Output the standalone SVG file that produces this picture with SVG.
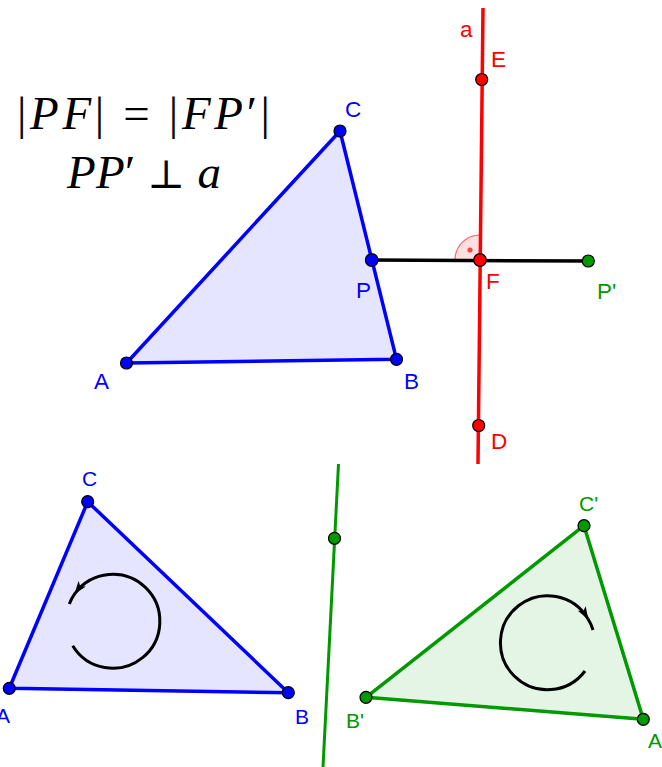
<svg xmlns="http://www.w3.org/2000/svg" width="662" height="767" viewBox="0 0 662 767">
  <style>
    .lbl { font-family: "Liberation Sans", Arial, sans-serif; font-size: 22.5px; }
    .lbl-s { font-family: "Liberation Sans", Arial, sans-serif; font-size: 21px; }
    .blue { fill: #0000ff; }
    .red { fill: #ff0000; }
    .green { fill: #009900; }
    .pt { stroke: #000; stroke-width: 1.2; }
    .math { font-family: "Liberation Serif", "DejaVu Serif", serif; font-size: 47px; fill: #000; }
    .it { font-style: italic; }
    .rot { fill: none; stroke: #000; stroke-width: 3; }
  </style>
  <defs>
    <marker id="ah" markerUnits="userSpaceOnUse" viewBox="-13 -6 15 12" refX="0" refY="0" markerWidth="15" markerHeight="12" orient="auto">
      <path d="M -12 -4.5 L 1 0 L -12 4.5 L -9 0 Z" fill="#000"/>
    </marker>
  </defs>
  <rect width="662" height="767" fill="#fff"/>

  <!-- formula -->
  <g id="formula">
    <text class="math" x="17" y="129" textLength="253" lengthAdjust="spacing">|<tspan class="it">PF</tspan>| = |<tspan class="it">FP</tspan>′|</text>
    <text class="math" x="67" y="188" textLength="154" lengthAdjust="spacing"><tspan class="it">PP</tspan>′ <tspan font-family="DejaVu Serif, serif" font-size="40">⊥</tspan> <tspan class="it">a</tspan></text>
  </g>

  <!-- top figure -->
  <g id="triangle-ABC-top">
    <polygon points="126.5,363 396.5,359.3 340,131" fill="#0000ff" fill-opacity="0.1" stroke="#0000ff" stroke-width="3.5" stroke-linejoin="round"/>
  </g>
  <g id="right-angle">
    <path d="M 455 260 A 25 25 0 0 1 480.4 235 L 480 260 Z" fill="#ff0000" fill-opacity="0.12" stroke="#ff6666" stroke-width="1.2"/>
    <circle cx="470" cy="250" r="2.6" fill="#ff4444"/>
  </g>
  <g id="connectors">
    <line id="line-a" x1="483" y1="8" x2="478" y2="464" stroke="#ff0000" stroke-width="3.5"/>
    <line id="seg-PP" x1="371.7" y1="260" x2="588.3" y2="261" stroke="#000" stroke-width="3.5"/>
    <line id="line-bottom" x1="338.5" y1="464" x2="323" y2="767" stroke="#009900" stroke-width="3"/>
  </g>

  <g id="point-E"><circle class="pt" cx="481.7" cy="79.5" r="6" fill="#ff0000"/><text class="lbl red" x="491" y="67">E</text></g>
  <g id="label-a"><text class="lbl red" x="460" y="37">a</text></g>
  <g id="point-C"><circle class="pt" cx="340" cy="131" r="6" fill="#0000ff"/><text class="lbl blue" x="345" y="117">C</text></g>
  <g id="point-P"><circle class="pt" cx="371.7" cy="260" r="6.3" fill="#0000ff"/><text class="lbl blue" x="356" y="298">P</text></g>
  <g id="point-F"><circle class="pt" cx="480" cy="260" r="6.3" fill="#ff0000"/><text class="lbl red" x="486" y="289">F</text></g>
  <g id="point-P1"><circle class="pt" cx="588.3" cy="261" r="6" fill="#009900"/><text class="lbl green" x="597" y="299">P'</text></g>
  <g id="point-A"><circle class="pt" cx="126.5" cy="363" r="6" fill="#0000ff"/><text class="lbl blue" x="94" y="389">A</text></g>
  <g id="point-B"><circle class="pt" cx="396.5" cy="359.3" r="6" fill="#0000ff"/><text class="lbl blue" x="404" y="389">B</text></g>
  <g id="point-D"><circle class="pt" cx="478.7" cy="425.5" r="6" fill="#ff0000"/><text class="lbl red" x="491" y="449">D</text></g>

  <!-- bottom left -->
  <g id="triangle-ABC-bottom">
    <polygon points="9.3,688.3 288.3,692.7 87.7,501.7" fill="#0000ff" fill-opacity="0.1" stroke="#0000ff" stroke-width="3.5" stroke-linejoin="round"/>
    <path class="rot" d="M 72.7 645.7 A 47 47 0 1 0 75 593.4" marker-end="url(#ah)"/>
    <path class="rot" d="M 75 593.4 A 47 47 0 0 0 69.3 604"/>
  </g>
  <g id="point-C2"><circle class="pt" cx="87.7" cy="501.7" r="6" fill="#0000ff"/><text class="lbl-s blue" x="82" y="486">C</text></g>
  <g id="point-A2"><circle class="pt" cx="9.3" cy="688.3" r="6" fill="#0000ff"/><text class="lbl-s blue" x="-4" y="723">A</text></g>
  <g id="point-B2"><circle class="pt" cx="288.3" cy="692.7" r="6" fill="#0000ff"/><text class="lbl-s blue" x="295" y="724">B</text></g>

  <!-- bottom right -->
  <g id="triangle-ABC-image">
    <polygon points="643.3,719.3 366,697.3 584,525.7" fill="#009900" fill-opacity="0.1" stroke="#009900" stroke-width="3.5" stroke-linejoin="round"/>
    <path class="rot" d="M 585 671 A 47 47 0 1 1 587.9 618.8" marker-end="url(#ah)"/>
    <path class="rot" d="M 587.9 618.8 A 47 47 0 0 1 593 630"/>
  </g>
  <g id="point-axis"><circle class="pt" cx="334.5" cy="538.3" r="6" fill="#009900"/></g>
  <g id="point-C3"><circle class="pt" cx="584" cy="525.7" r="6" fill="#009900"/><text class="lbl-s green" x="579" y="511">C'</text></g>
  <g id="point-B3"><circle class="pt" cx="366" cy="697.3" r="6" fill="#009900"/><text class="lbl-s green" x="346" y="728">B'</text></g>
  <g id="point-A3"><circle class="pt" cx="643.3" cy="719.3" r="6" fill="#009900"/><text class="lbl-s green" x="648" y="748">A'</text></g>
</svg>
